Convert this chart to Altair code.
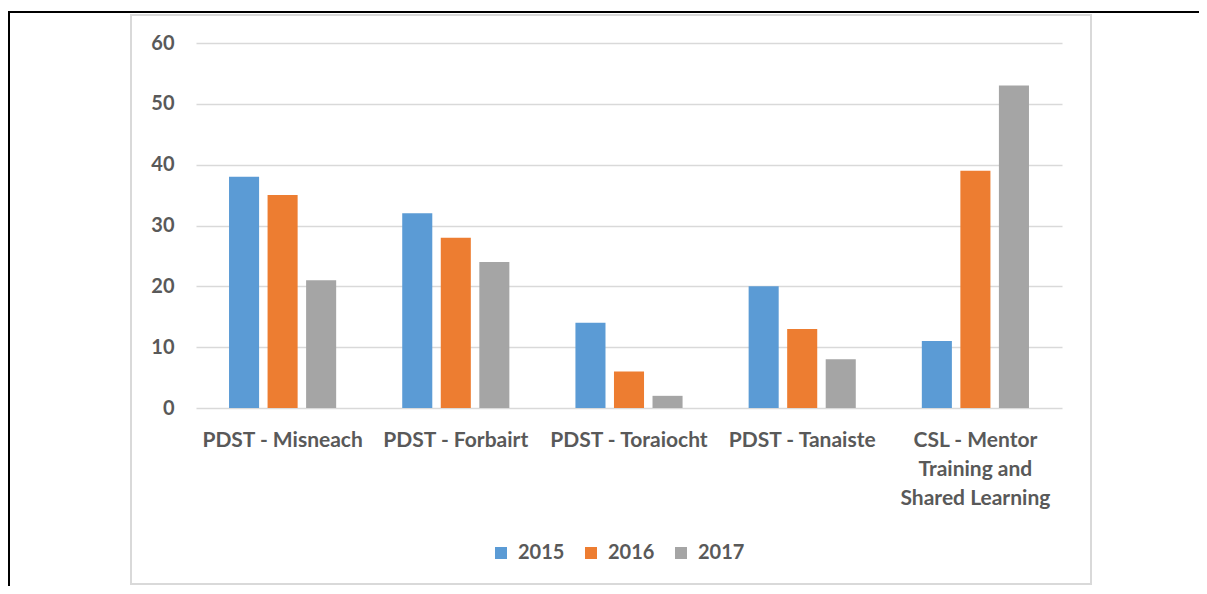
import altair as alt
import pandas as pd

categories = ["PDST - Misneach", "PDST - Forbairt", "PDST - Toraiocht", "PDST - Tanaiste",
              "CSL - Mentor Training and Shared Learning"]
years = ["2015", "2016", "2017"]
values_2015 = [38, 32, 14, 20, 11]
values_2016 = [35, 28, 6, 13, 39]
values_2017 = [21, 24, 2, 8, 53]
colors = ["#5B9BD5", "#ED7D31", "#A5A5A5"]

rows = []
for yr, vals in zip(years, [values_2015, values_2016, values_2017]):
    for c, v in zip(categories, vals):
        rows.append({"category": c, "year": yr, "value": v})
df = pd.DataFrame(rows)

FONT = "Lato"
TXT = "#595959"

label_expr = ("datum.value == 'CSL - Mentor Training and Shared Learning' ? "
              "['CSL - Mentor', 'Training and', 'Shared Learning'] : datum.label")

bars = alt.Chart(df).mark_bar().encode(
    x=alt.X("category:N", sort=categories, title=None,
            scale=alt.Scale(paddingInner=0, paddingOuter=0),
            axis=alt.Axis(labelAngle=0, labelExpr=label_expr, ticks=False, domain=False,
                          labelFont=FONT, labelFontSize=21, labelFontWeight="bold",
                          labelColor=TXT, labelPadding=21, labelLineHeight=29,
                          labelLimit=300)),
    xOffset=alt.XOffset("year:N", sort=years,
                        scale=alt.Scale(paddingInner=0.22, paddingOuter=0.857)),
    y=alt.Y("value:Q", title=None,
            scale=alt.Scale(domain=[0, 60]),
            axis=alt.Axis(values=[0, 10, 20, 30, 40, 50, 60], ticks=False, domain=False,
                          labelFont=FONT, labelFontSize=20, labelFontWeight="bold",
                          labelColor=TXT, labelPadding=22,
                          gridColor="#D9D9D9", gridWidth=1.5)),
    color=alt.Color("year:N", sort=years,
                    scale=alt.Scale(domain=years, range=colors),
                    legend=alt.Legend(title=None, orient="none", direction="horizontal",
                                      legendX=295, legendY=500,
                                      symbolType="square", symbolSize=144,
                                      symbolStrokeWidth=0, labelFont=FONT,
                                      labelFontSize=20, labelFontWeight="bold",
                                      labelColor=TXT, labelOffset=7, columnPadding=16)),
)

deco = pd.DataFrame({"k": [0]})

border = alt.Chart(deco).mark_rect(fill=None, stroke="#D9D9D9", strokeWidth=2).encode(
    x=alt.value(-65), x2=alt.value(895), y=alt.value(-28), y2=alt.value(541)
)
top_line = alt.Chart(deco).mark_rule(color="black", strokeWidth=2).encode(
    x=alt.value(-188), x2=alt.value(1011), y=alt.value(-31)
)
left_line = alt.Chart(deco).mark_rule(color="black", strokeWidth=2).encode(
    x=alt.value(-187), y=alt.value(-32), y2=alt.value(551)
)

chart = alt.layer(border, top_line, left_line, bars).properties(
    width=866, height=365,
    autosize=alt.AutoSizeParams(type="none"),
    padding={"left": 188, "top": 35, "right": 137, "bottom": 178},
    background="white",
).configure_view(stroke=None)

chart.save("out.html", embed_options={"renderer": "svg", "actions": False})
